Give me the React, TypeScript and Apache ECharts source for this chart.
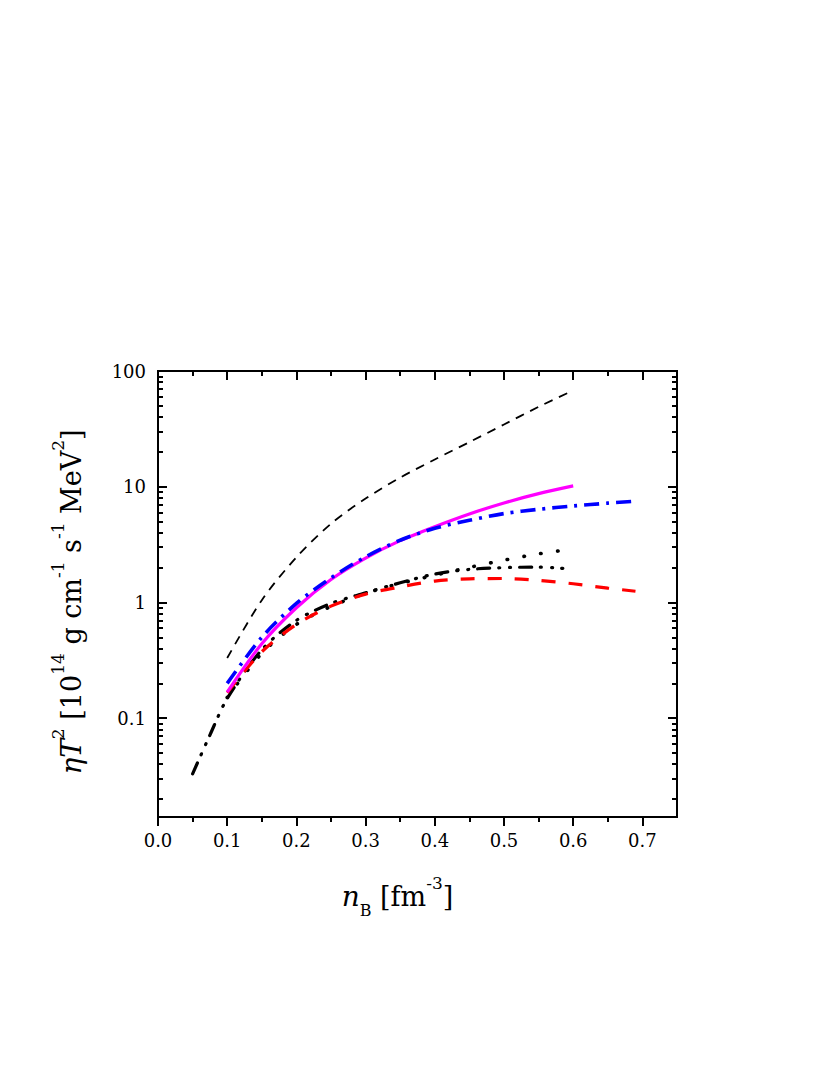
import React, { useEffect, useRef } from "react";
import * as echarts from "echarts";

// ---------- data ----------
const X_MAJOR = [0, 0.1, 0.2, 0.3, 0.4, 0.5, 0.6, 0.7];
const X_MINOR = [0.05, 0.15, 0.25, 0.35, 0.45, 0.55, 0.65];
const Y_DECADES = [0.1, 1, 10, 100];
const Y_LOW = 0.014;
const Y_HIGH = 100;

const thinDashedX = [0.1, 0.15, 0.2, 0.25, 0.3, 0.35, 0.4, 0.45, 0.5, 0.55, 0.6];
const thinDashedY = [0.331, 1.047, 2.455, 4.79, 7.9, 12.0, 17.2, 24.3, 34.5, 49, 68];

const magentaX = [0.1, 0.15, 0.2, 0.25, 0.3, 0.35, 0.4, 0.45, 0.5, 0.55, 0.6];
const magentaY = [0.168, 0.44, 0.9, 1.58, 2.42, 3.42, 4.52, 5.82, 7.24, 8.71, 10.16];

const blueX = [0.1, 0.15, 0.2, 0.25, 0.3, 0.35, 0.4, 0.45, 0.5, 0.55, 0.6, 0.65, 0.69];
const blueY = [0.2, 0.5, 0.98, 1.63, 2.48, 3.45, 4.37, 5.13, 5.86, 6.38, 6.82, 7.21, 7.5];

const redX = [0.1, 0.15, 0.2, 0.25, 0.3, 0.35, 0.4, 0.45, 0.5, 0.55, 0.6, 0.65, 0.69];
const redY = [0.166, 0.375, 0.645, 0.93, 1.18, 1.36, 1.53, 1.6, 1.61, 1.55, 1.45, 1.33, 1.25];

const dashDotX = [0.05, 0.075, 0.1, 0.15, 0.2, 0.25, 0.3, 0.35, 0.4, 0.45, 0.5, 0.55, 0.585];
const dashDotY = [0.033, 0.0715, 0.148, 0.39, 0.7, 0.98, 1.21, 1.48, 1.76, 1.93, 2.0, 2.02, 1.97];

const dottedX = [0.1, 0.15, 0.2, 0.25, 0.3, 0.35, 0.4, 0.45, 0.5, 0.55, 0.6];
const dottedY = [0.151, 0.363, 0.646, 0.923, 1.2, 1.46, 1.72, 2.01, 2.32, 2.63, 2.9];

// ---------- helpers ----------
const lg = (v: number) => Math.log10(v);
const pairs = (xs: number[], ys: number[]) => xs.map((x, i) => [x, lg(ys[i])]);
const yMinorVals: number[] = [];
for (let n = -2; n <= 1; n++) {
  for (let k = 2; k <= 9; k++) {
    const v = lg(k * Math.pow(10, n));
    if (v > lg(Y_LOW) && v < lg(Y_HIGH)) yMinorVals.push(v);
  }
}
const yMajorVals = Y_DECADES.map(lg);
const FONT = "DejaVu Serif";

const richStyles = {
  it: { fontFamily: FONT, fontSize: 28, fontStyle: "italic", color: "#000", lineHeight: 44 },
  n: { fontFamily: FONT, fontSize: 27, color: "#000", lineHeight: 44 },
  sup: { fontFamily: FONT, fontSize: 17, color: "#000", verticalAlign: "top", lineHeight: 22 },
  sub: { fontFamily: FONT, fontSize: 16, color: "#000", verticalAlign: "bottom", lineHeight: 16 },
};

function yAxisDef(pos: "left" | "right", major: boolean, labels: boolean) {
  return {
    type: "value",
    position: pos,
    min: lg(Y_LOW),
    max: lg(Y_HIGH),
    axisLine: { show: true, onZero: false, lineStyle: { color: "#000", width: 2 } },
    axisTick: {
      show: true,
      inside: true,
      length: major ? 9 : 5,
      lineStyle: { color: "#000", width: 2 },
      customValues: major ? yMajorVals : yMinorVals,
    },
    axisLabel: {
      show: labels,
      customValues: yMajorVals,
      margin: 12,
      color: "#000",
      fontFamily: FONT,
      fontSize: 18,
      formatter: (v: number) => {
        const p = Math.round(v);
        const val = Math.pow(10, p);
        return p >= 0 ? String(Math.round(val)) : val.toFixed(-p);
      },
    },
    splitLine: { show: false },
    ...(labels
      ? {
          name:
            "{it|ηT}{sup|2}{n| [10}{sup|14}{n| g cm}{sup|-1}{n| s}{sup|-1}{n| MeV}{sup|2}{n|]}",
          nameLocation: "middle",
          nameGap: 65,
          nameRotate: 90,
          nameTextStyle: {
            color: "#000",
            fontFamily: FONT,
            fontSize: 27,
            padding: [0, 16, 0, 0],
            rich: richStyles,
          },
        }
      : {}),
  };
}

function xAxisDef(pos: "bottom" | "top", major: boolean, labels: boolean) {
  return {
    type: "value",
    position: pos,
    min: 0,
    max: 0.75,
    axisLine: { show: true, onZero: false, lineStyle: { color: "#000", width: 2 } },
    axisTick: {
      show: true,
      inside: pos === "top",
      length: major ? 9 : 5,
      lineStyle: { color: "#000", width: 2 },
      customValues: major ? X_MAJOR : X_MINOR,
    },
    axisLabel: {
      show: labels,
      customValues: X_MAJOR,
      margin: 14,
      color: "#000",
      fontFamily: FONT,
      fontSize: 18,
      formatter: (v: number) => v.toFixed(1),
    },
    splitLine: { show: false },
    ...(labels
      ? {
          name: "{it|n}{sub|B}{n| [fm}{sup|-3}{n|]}",
          nameLocation: "middle",
          nameGap: 57,
          nameTextStyle: {
            color: "#000",
            fontFamily: FONT,
            fontSize: 27,
            padding: [0, 40, 0, 0],
            rich: richStyles,
          },
        }
      : {}),
  };
}

function line(name: string, xs: number[], ys: number[], color: string, width: number, type: any, cap = "butt") {
  return {
    name,
    type: "line",
    xAxisIndex: 0,
    yAxisIndex: 0,
    data: pairs(xs, ys),
    smooth: 0.3,
    showSymbol: false,
    symbol: "none",
    lineStyle: { color, width, type, cap },
  };
}

export default function App() {
  const ref = useRef<HTMLDivElement>(null);
  useEffect(() => {
    if (!ref.current) return;
    const chart = echarts.init(ref.current, undefined, { renderer: "svg" });
    chart.setOption({
      animation: false,
      backgroundColor: "#fff",
      grid: { left: 158, right: 153, top: 371, bottom: 258, containLabel: false },
      xAxis: [
        xAxisDef("bottom", true, true),
        xAxisDef("bottom", false, false),
        xAxisDef("top", true, false),
        xAxisDef("top", false, false),
      ],
      yAxis: [
        yAxisDef("left", true, true),
        yAxisDef("left", false, false),
        yAxisDef("right", true, false),
        yAxisDef("right", false, false),
      ],
      series: [
        line("thin dashed", thinDashedX, thinDashedY, "#000", 1.8, [9, 7]),
        line("dash-dot-dot", dashDotX, dashDotY, "#000", 3.2, [12, 9, 1, 10, 1, 9], "round"),
        line("dotted", dottedX, dottedY, "#000", 3.6, [0.5, 16.5], "round"),
        line("red dashed", redX, redY, "#ff0000", 3.2, [14, 13]),
        line("magenta", magentaX, magentaY, "#ff00ff", 3.2, "solid"),
        line("blue dash-dot", blueX, blueY, "#0000ff", 3.6, [15, 7, 3, 7]),
      ],
    });
    return () => chart.dispose();
  }, []);
  return (
    <div
      ref={ref}
      style={{ position: "absolute", left: 0, top: 0, width: 830, height: 1075 }}
    />
  );
}
